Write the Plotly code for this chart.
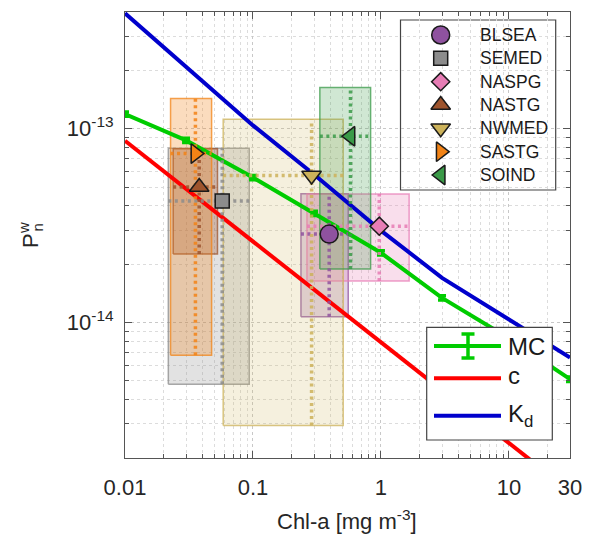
import math
import plotly.graph_objects as go

# ---------------- data ----------------
chl_model = [0.01, 0.03, 0.1, 0.3, 1, 3, 10, 30]
pw_mc = [1.19e-13, 8.7e-14, 5.6e-14, 3.66e-14, 2.29e-14, 1.34e-14, 8.3e-15, 5.1e-15]
pw_mc_err = [3.0e-15, 2.2e-15, 1.4e-15, 9.0e-16, 5.7e-16, 3.3e-16, 2.1e-16, 1.3e-16]
pw_c = [8.67e-14, 4.90e-14, 2.62e-14, 1.48e-14, 7.91e-15, 4.47e-15, 2.39e-15, 1.35e-15]
pw_kd = [3.94e-13, 2.10e-13, 1.04e-13, 5.8e-14, 2.98e-14, 1.70e-14, 1.04e-14, 6.6e-15]

regions = ["BLSEA", "SEMED", "NASPG", "NASTG", "NWMED", "SASTG", "SOIND"]
chl_med = [0.394, 0.0575, 0.97, 0.038, 0.287, 0.0355, 0.578]
chl_lo = [0.237, 0.0218, 0.264, 0.0238, 0.0585, 0.0227, 0.333]
chl_hi = [0.555, 0.0935, 1.66, 0.0528, 0.507, 0.0475, 0.83]
pw_med = [2.86e-14, 4.24e-14, 3.14e-14, 5.0e-14, 5.74e-14, 7.44e-14, 9.14e-14]
pw_lo = [1.07e-14, 4.81e-15, 1.64e-14, 2.26e-14, 2.94e-15, 6.78e-15, 1.89e-14]
pw_hi = [4.62e-14, 7.92e-14, 4.6e-14, 7.87e-14, 1.12e-13, 1.43e-13, 1.63e-13]

x_ticks = [0.01, 0.1, 1, 10, 30]
x_ticktext = ["0.01", "0.1", "1", "10", "30"]
y_ticks = [1e-14, 1e-13]
y_ticktext = ["10<sup>-14</sup>", "10<sup>-13</sup>"]

# ---------------- styles ----------------
rgb = {
    "BLSEA": (143, 82, 159),
    "SEMED": (140, 140, 140),
    "NASPG": (231, 125, 181),
    "NASTG": (158, 84, 45),
    "NWMED": (204, 178, 90),
    "SASTG": (242, 131, 22),
    "SOIND": (58, 154, 72),
}
fill_alpha = {"BLSEA": 0.25, "SEMED": 0.25, "NASPG": 0.25, "NASTG": 0.3,
              "NWMED": 0.2, "SASTG": 0.28, "SOIND": 0.24}
symbols = {
    "BLSEA": ("circle", 18), "SEMED": ("square", 14), "NASPG": ("diamond", 14),
    "NASTG": ("triangle-up", 17), "NWMED": ("triangle-down", 17),
    "SASTG": ("triangle-right", 17), "SOIND": ("triangle-left", 17),
}
def rgba(c, a):
    return f"rgba({c[0]},{c[1]},{c[2]},{a})"

FONT = "Liberation Sans, Arial, sans-serif"
GREEN, RED, BLUE = "#00cc00", "#ff0000", "#0000cc"

fig = go.Figure()

# boxes (ranges)
for i, r in enumerate(regions):
    c = rgb[r]
    fig.add_trace(go.Scatter(
        x=[chl_lo[i], chl_hi[i], chl_hi[i], chl_lo[i], chl_lo[i]],
        y=[pw_lo[i], pw_lo[i], pw_hi[i], pw_hi[i], pw_lo[i]],
        mode="lines", fill="toself", fillcolor=rgba(c, fill_alpha[r]),
        line=dict(color=rgba(c, 0.75), width=1.5), showlegend=False, hoverinfo="skip"))

# model curves
fig.add_trace(go.Scatter(x=chl_model, y=pw_c, mode="lines",
                         line=dict(color=RED, width=4), showlegend=False))
fig.add_trace(go.Scatter(x=chl_model, y=pw_kd, mode="lines",
                         line=dict(color=BLUE, width=4), showlegend=False))
fig.add_trace(go.Scatter(x=chl_model, y=pw_mc, mode="lines",
                         line=dict(color=GREEN, width=4),
                         error_y=dict(type="data", array=pw_mc_err, color=GREEN,
                                      thickness=3.5, width=4),
                         cliponaxis=False, showlegend=False))

# dotted median cross-hairs
for i, r in enumerate(regions):
    c = rgb[r]
    fig.add_trace(go.Scatter(x=[chl_lo[i], chl_hi[i]], y=[pw_med[i], pw_med[i]], mode="lines",
                             line=dict(color=rgba(c, 0.85), width=3.5, dash="3px,3.5px"),
                             showlegend=False, hoverinfo="skip"))
    fig.add_trace(go.Scatter(x=[chl_med[i], chl_med[i]], y=[pw_lo[i], pw_hi[i]], mode="lines",
                             line=dict(color=rgba(c, 0.85), width=3.5, dash="3px,3.5px"),
                             showlegend=False, hoverinfo="skip"))

# median markers
for i, r in enumerate(regions):
    sym, sz = symbols[r]
    fig.add_trace(go.Scatter(x=[chl_med[i]], y=[pw_med[i]], mode="markers",
                             marker=dict(symbol=sym, size=sz, color=rgba(rgb[r], 1),
                                         line=dict(color="#1a1a1a", width=1.5)),
                             name=r, showlegend=False))

# ---------------- legend 1 (markers), in paper coordinates ----------------
def px2paper_x(px):
    return (px - 125) / 445.0
def px2paper_y(py):
    return (458 - py) / 446.0

leg1_rows = [35, 58.3, 81.7, 105, 128.3, 151.7, 175]
annotations = []
shapes = []
shapes.append(dict(type="rect", xref="paper", yref="paper",
                   x0=px2paper_x(400.5), x1=px2paper_x(555.7),
                   y0=px2paper_y(190), y1=px2paper_y(20),
                   line=dict(color="#444444", width=1.2), fillcolor="white", layer="between"))
for r, row in zip(regions, leg1_rows):
    sym, sz = symbols[r]
    fig.add_trace(go.Scatter(x=[px2paper_x(440.7)], y=[px2paper_y(row)], mode="markers",
                             xaxis="x2", yaxis="y2",
                             marker=dict(symbol=sym, size=sz, color=rgba(rgb[r], 1),
                                         line=dict(color="#1a1a1a", width=1.5)),
                             showlegend=False, hoverinfo="skip"))
    annotations.append(dict(text=r, xref="paper", yref="paper", x=px2paper_x(478),
                            y=px2paper_y(row), xanchor="left", yanchor="middle",
                            showarrow=False, font=dict(size=17.5, color="#1a1a1a", family=FONT)))

# ---------------- legend 2 (lines) ----------------
shapes.append(dict(type="rect", xref="paper", yref="paper",
                   x0=px2paper_x(426.7), x1=px2paper_x(552.3),
                   y0=px2paper_y(440), y1=px2paper_y(327.3),
                   line=dict(color="#444444", width=1.2), fillcolor="white", layer="above"))
leg2 = [("MC", GREEN, 346, 346), ("c", RED, 378.3, 375.5), ("K<sub>d</sub>", BLUE, 415.7, 415)]
for txt, col, ly, ty in leg2:
    shapes.append(dict(type="line", xref="paper", yref="paper",
                       x0=px2paper_x(434), x1=px2paper_x(501), y0=px2paper_y(ly), y1=px2paper_y(ly),
                       line=dict(color=col, width=4), layer="above"))
    annotations.append(dict(text=txt, xref="paper", yref="paper", x=px2paper_x(506),
                            y=px2paper_y(ty), xanchor="left", yanchor="middle",
                            showarrow=False, font=dict(size=24, color="#1a1a1a", family=FONT)))
# error-bar glyph for MC
ex = 468
shapes.append(dict(type="line", xref="paper", yref="paper", x0=px2paper_x(ex), x1=px2paper_x(ex),
                   y0=px2paper_y(334), y1=px2paper_y(358), line=dict(color=GREEN, width=3.5), layer="above"))
for yy in (334, 358):
    shapes.append(dict(type="line", xref="paper", yref="paper", x0=px2paper_x(ex - 6.5),
                       x1=px2paper_x(ex + 6.5), y0=px2paper_y(yy), y1=px2paper_y(yy),
                       line=dict(color=GREEN, width=3.5), layer="above"))

# ---------------- axis titles ----------------
annotations.append(dict(text="Chl-a [mg m<sup>-3</sup>]", xref="paper", yref="paper",
                        x=px2paper_x(347), y=px2paper_y(520), xanchor="center", yanchor="middle",
                        showarrow=False, font=dict(size=22, color="#262626", family=FONT)))
annotations.append(dict(text="P", xref="paper", yref="paper", x=px2paper_x(30), y=px2paper_y(241),
                        textangle=-90, xanchor="center", yanchor="middle", showarrow=False,
                        font=dict(size=22, color="#262626", family=FONT)))
annotations.append(dict(text="w", xref="paper", yref="paper", x=px2paper_x(24), y=px2paper_y(228),
                        textangle=-90, xanchor="center", yanchor="middle", showarrow=False,
                        font=dict(size=15, color="#262626", family=FONT)))
annotations.append(dict(text="n", xref="paper", yref="paper", x=px2paper_x(37.5), y=px2paper_y(228),
                        textangle=-90, xanchor="center", yanchor="middle", showarrow=False,
                        font=dict(size=15, color="#262626", family=FONT)))

# ---------------- axes ----------------
minor_x = [m * 10 ** e for e in (-2, -1, 0) for m in range(2, 10)] + [20]
minor_y = [m * 10 ** e for e in (-15, -14) for m in range(2, 10)] + [2e-13, 3e-13, 4e-13]

axis_common = dict(
    ticks="inside", ticklen=7, tickcolor="#555555", tickwidth=1,
    showline=True, linecolor="#555555", linewidth=1.2, mirror="allticks",
    showgrid=True, gridcolor="#c8c8c8", griddash="dot", gridwidth=1, zeroline=False,
    tickfont=dict(size=22, color="#262626", family=FONT),
)
fig.update_layout(
    width=596, height=536,
    margin=dict(l=125, r=26, t=12, b=78),
    paper_bgcolor="white", plot_bgcolor="white",
    showlegend=False,
    xaxis=dict(type="log", range=[-2, math.log10(30)], tickmode="array", tickvals=x_ticks,
               ticktext=x_ticktext, ticklabelstandoff=9,
               minor=dict(tickmode="array", tickvals=minor_x, ticks="inside", ticklen=4,
                          tickcolor="#555555", showgrid=True, gridcolor="#dcdcdc", griddash="dot"),
               **axis_common),
    yaxis=dict(type="log", range=[math.log10(2e-15), math.log10(4e-13)], tickmode="array",
               tickvals=y_ticks, ticktext=y_ticktext, ticklabelstandoff=6,
               minor=dict(tickmode="array", tickvals=minor_y, ticks="inside", ticklen=4,
                          tickcolor="#555555", showgrid=True, gridcolor="#dcdcdc", griddash="dot"),
               **axis_common),
    xaxis2=dict(overlaying="x", range=[0, 1], visible=False, anchor="y2", fixedrange=True),
    yaxis2=dict(overlaying="y", range=[0, 1], visible=False, anchor="x2", fixedrange=True),
    shapes=shapes,
    annotations=annotations,
)

fig.write_html("out.html")
